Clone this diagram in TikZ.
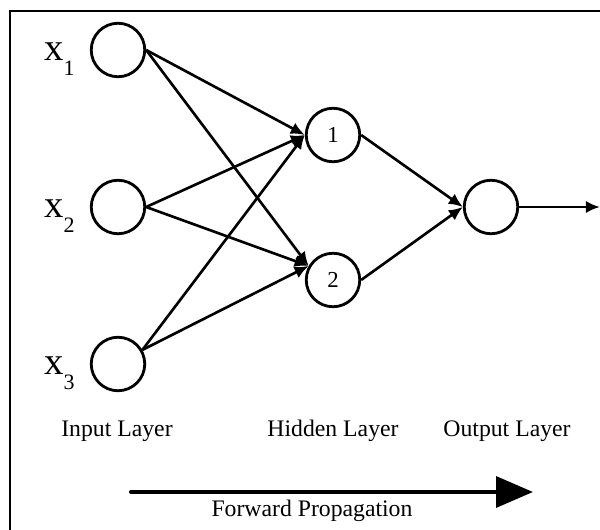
\documentclass[tikz,border=0pt]{standalone}
\usepackage{fontspec}
\setmainfont{Liberation Serif}
\usetikzlibrary{arrows.meta,positioning}

\begin{document}
\begin{tikzpicture}
  [>={Latex[length=8pt,width=7pt]}, x=0.02cm, y=-0.02cm]

% page size
\useasboundingbox (0,0) rectangle (600,530);

% define styles
\tikzstyle{neuron} = [draw, circle, line width=1.6pt, minimum size=1.07cm, inner sep=0pt, font=\fontsize{13}{15}\selectfont];
\tikzstyle{edge} = [->, line width=1.5pt];
\tikzstyle{layer} = [anchor=base, inner sep=0pt, font=\fontsize{13.5}{16}\selectfont];

% define new commands
\newcommand{\inLabel}[2]{
  \node[anchor=base east, inner sep=0pt, font=\fontsize{22}{26}\selectfont] (l#1) at (75,#2) {x\raisebox{-8.5pt}{\fontsize{12.5}{14}\selectfont #1}};
}

% frame
\coordinate (fa) at (10,530);
\coordinate (fb) at (600,11);
\draw[line width=1.1pt] (fa) |- (fb);

% draw nodes
\foreach \n/\y in {1/50,2/207,3/364}{
  \node[neuron] (x\n) at (118,\y) {};
  \inLabel{\n}{\y+11}
}
\node[neuron] (h1) at (333,135) {1};
\node[neuron] (h2) at (333,280) {2};
\node[neuron] (o) at (491,207) {};
\coordinate (oend) at (600,207);

% draw edges
\foreach \src in {x1.east,x2.east,x3.30}{
  \draw[edge] (\src) -- (h1.west);
  \draw[edge] (\src) -- (h2.150);
}
\draw[edge] (h1.east) -- (o.west);
\draw[edge] (h2.east) -- (o.west);
\draw[edge] (o.east) -- (oend);

% layer names
\node[layer] (lin) at (117,437) {Input Layer};
\node[layer] (lhid) at (333,437) {Hidden Layer};
\node[layer] (lout) at (507,437) {Output Layer};

% forward arrow
\coordinate (fs) at (131,492);
\coordinate (fe) at (533,492);
\draw[line width=2.3pt, line cap=round, -{Triangle[length=21pt,width=17.5pt]}] (fs) -- (fe);
\node[layer] (fwd) at (312,517) {Forward Propagation};

\end{tikzpicture}
\end{document}
